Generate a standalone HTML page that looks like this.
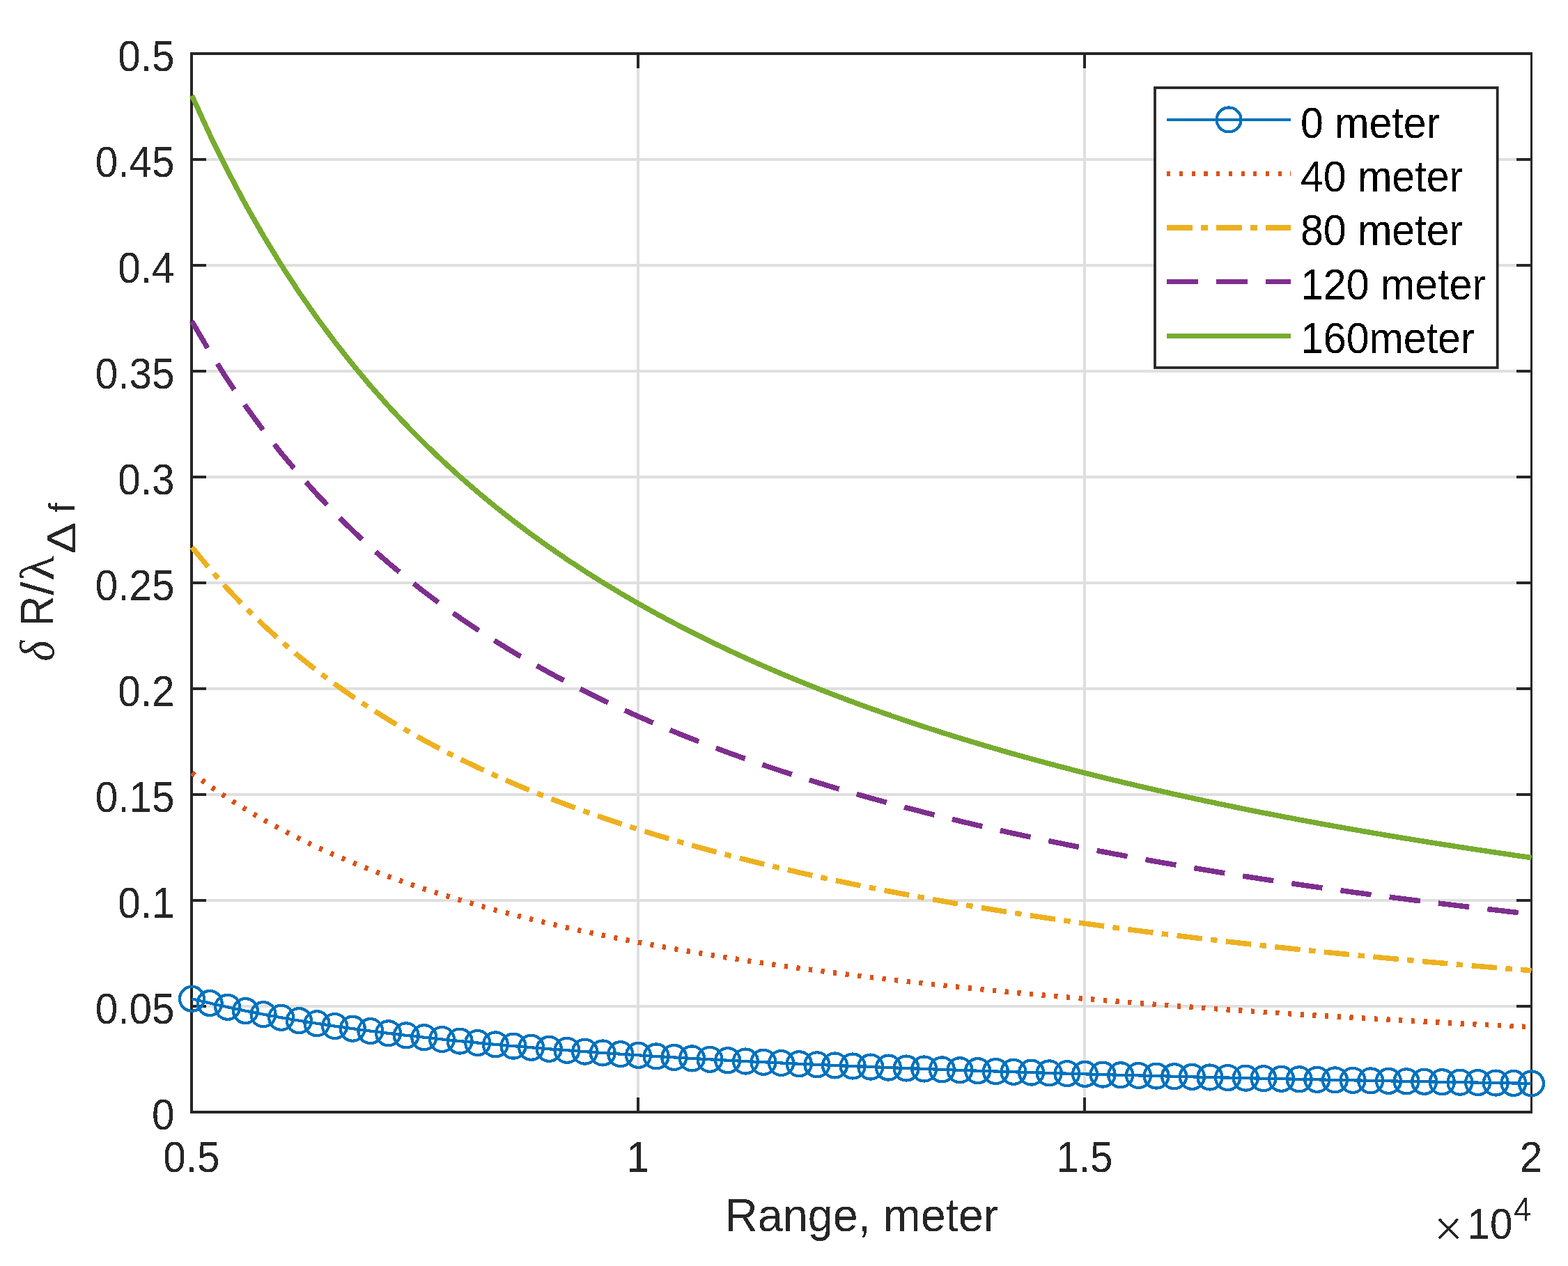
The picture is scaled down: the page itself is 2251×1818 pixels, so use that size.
<!DOCTYPE html>
<html><head><meta charset="utf-8"><title>Range plot</title>
<style>html,body{margin:0;padding:0;background:#fff;overflow:hidden;}svg{display:block;}</style>
</head><body>
<svg width="2251" height="1818" viewBox="0 0 2251 1818">
<defs><filter id="bin" color-interpolation-filters="sRGB"><feComponentTransfer><feFuncA type="discrete" tableValues="0 1"/></feComponentTransfer></filter></defs>
<path d="M916.00 77.0V1597.0 M1557.00 77.0V1597.0 M275.0 1445.00H2198.0 M275.0 1293.00H2198.0 M275.0 1141.00H2198.0 M275.0 989.00H2198.0 M275.0 837.00H2198.0 M275.0 685.00H2198.0 M275.0 533.00H2198.0 M275.0 381.00H2198.0 M275.0 229.00H2198.0" stroke="#dfdfdf" stroke-width="4" fill="none"/>
<path d="M916.00 1597.0v-21M916.00 77.0v21 M1557.00 1597.0v-21M1557.00 77.0v21 M275.0 1445.00h21M2198.0 1445.00h-21 M275.0 1293.00h21M2198.0 1293.00h-21 M275.0 1141.00h21M2198.0 1141.00h-21 M275.0 989.00h21M2198.0 989.00h-21 M275.0 837.00h21M2198.0 837.00h-21 M275.0 685.00h21M2198.0 685.00h-21 M275.0 533.00h21M2198.0 533.00h-21 M275.0 381.00h21M2198.0 381.00h-21 M275.0 229.00h21M2198.0 229.00h-21" stroke="#262626" stroke-width="4" fill="none"/>
<path d="M273.0 77.0H2199.5M273.0 1597.0H2199.5M275.0 77.0V1597.0" stroke="#262626" stroke-width="4" fill="none"/>
<path d="M2198.5 75.0V1599.0" stroke="#262626" stroke-width="3" fill="none"/>
<g font-family="'Liberation Sans', Arial, Helvetica, sans-serif" font-size="60" fill="#262626" filter="url(#bin)"><text transform="translate(275.00 1683.3) scale(0.975 1.035)" text-anchor="middle">0.5</text><text transform="translate(916.00 1683.3) scale(0.975 1.035)" text-anchor="middle">1</text><text transform="translate(1557.00 1683.3) scale(0.975 1.035)" text-anchor="middle">1.5</text><text transform="translate(2198.00 1683.3) scale(0.975 1.035)" text-anchor="middle">2</text><text transform="translate(250.5 1622.30) scale(0.975 1.035)" text-anchor="end">0</text><text transform="translate(250.5 1470.30) scale(0.975 1.035)" text-anchor="end">0.05</text><text transform="translate(250.5 1318.30) scale(0.975 1.035)" text-anchor="end">0.1</text><text transform="translate(250.5 1166.30) scale(0.975 1.035)" text-anchor="end">0.15</text><text transform="translate(250.5 1014.30) scale(0.975 1.035)" text-anchor="end">0.2</text><text transform="translate(250.5 862.30) scale(0.975 1.035)" text-anchor="end">0.25</text><text transform="translate(250.5 710.30) scale(0.975 1.035)" text-anchor="end">0.3</text><text transform="translate(250.5 558.30) scale(0.975 1.035)" text-anchor="end">0.35</text><text transform="translate(250.5 406.30) scale(0.975 1.035)" text-anchor="end">0.4</text><text transform="translate(250.5 254.30) scale(0.975 1.035)" text-anchor="end">0.45</text><text transform="translate(250.5 102.30) scale(0.975 1.035)" text-anchor="end">0.5</text></g>
<text transform="translate(1237.2 1768) scale(0.981 1)" text-anchor="middle" font-family="'Liberation Sans', Arial, Helvetica, sans-serif" font-size="66" fill="#262626" filter="url(#bin)">Range, meter</text>
<g font-family="'Liberation Sans', Arial, Helvetica, sans-serif" fill="#262626" filter="url(#bin)"><text transform="translate(2058.96 1788.7) scale(1.208 1.248)" font-size="60" font-family="'Liberation Serif', 'Times New Roman', serif">×</text><text transform="translate(2106.5 1778.8) scale(0.975 1.035)" font-size="60">10</text><text transform="translate(2173.3 1753) scale(0.89 0.98)" font-size="50">4</text></g>
<g fill="#262626" filter="url(#bin)"><text transform="rotate(-90) translate(-949.61 76.54) scale(0.9552 1.0574)" font-family="'Liberation Serif', 'Times New Roman', serif" font-size="66" font-style="italic">δ</text><text transform="rotate(-90) translate(-899.36 75.80) scale(0.9128 1.0174)" font-family="'Liberation Sans', Arial, Helvetica, sans-serif" font-size="66">R</text><text transform="rotate(-90) translate(-854.80 76.02) scale(1.0444 0.9796)" font-family="'Liberation Sans', Arial, Helvetica, sans-serif" font-size="66">/</text><text transform="rotate(-90) translate(-834.06 76.90) scale(1.1300 1.0435)" font-family="'Liberation Serif', 'Times New Roman', serif" font-size="66">λ</text><text transform="rotate(-90) translate(-795.01 107.90) scale(1.0075 0.8674)" font-family="'Liberation Sans', Arial, Helvetica, sans-serif" font-size="66">Δ</text><text transform="rotate(-90) translate(-735.71 107.10) scale(0.7118 0.7896)" font-family="'Liberation Sans', Arial, Helvetica, sans-serif" font-size="66">f</text></g>
<polyline points="275.50,1434.27 301.14,1440.50 326.78,1446.28 352.42,1451.64 378.06,1456.63 403.70,1461.29 429.34,1465.65 454.98,1469.73 480.62,1473.57 506.26,1477.18 531.90,1480.59 557.54,1483.81 583.18,1486.85 608.82,1489.73 634.46,1492.47 660.10,1495.07 685.74,1497.54 711.38,1499.89 737.02,1502.14 762.66,1504.28 788.30,1506.33 813.94,1508.28 839.58,1510.16 865.22,1511.96 890.86,1513.68 916.50,1515.33 942.14,1516.92 967.78,1518.45 993.42,1519.92 1019.06,1521.34 1044.70,1522.70 1070.34,1524.02 1095.98,1525.29 1121.62,1526.51 1147.26,1527.70 1172.90,1528.84 1198.54,1529.95 1224.18,1531.02 1249.82,1532.06 1275.46,1533.07 1301.10,1534.04 1326.74,1534.99 1352.38,1535.90 1378.02,1536.79 1403.66,1537.66 1429.30,1538.50 1454.94,1539.31 1480.58,1540.10 1506.22,1540.87 1531.86,1541.63 1557.50,1542.36 1583.14,1543.07 1608.78,1543.76 1634.42,1544.43 1660.06,1545.09 1685.70,1545.73 1711.34,1546.36 1736.98,1546.97 1762.62,1547.56 1788.26,1548.15 1813.90,1548.71 1839.54,1549.27 1865.18,1549.81 1890.82,1550.34 1916.46,1550.86 1942.10,1551.36 1967.74,1551.86 1993.38,1552.34 2019.02,1552.82 2044.66,1553.28 2070.30,1553.73 2095.94,1554.18 2121.58,1554.61 2147.22,1555.04 2172.86,1555.46 2198.50,1555.87" fill="none" stroke="#0072BD" stroke-width="4.2" stroke-linejoin="round" shape-rendering="crispEdges"/>
<polyline points="275.50,1110.00 301.14,1128.71 326.78,1146.03 352.42,1162.11 378.06,1177.09 403.70,1191.07 429.34,1204.14 454.98,1216.40 480.62,1227.92 506.26,1238.75 531.90,1248.97 557.54,1258.62 583.18,1267.75 608.82,1276.40 634.46,1284.61 660.10,1292.40 685.74,1299.81 711.38,1306.88 737.02,1313.61 762.66,1320.04 788.30,1326.18 813.94,1332.05 839.58,1337.68 865.22,1343.07 890.86,1348.24 916.50,1353.20 942.14,1357.97 967.78,1362.55 993.42,1366.97 1019.06,1371.21 1044.70,1375.31 1070.34,1379.26 1095.98,1383.07 1121.62,1386.74 1147.26,1390.30 1172.90,1393.73 1198.54,1397.06 1224.18,1400.27 1249.82,1403.38 1275.46,1406.40 1301.10,1409.32 1326.74,1412.16 1352.38,1414.91 1378.02,1417.58 1403.66,1420.17 1429.30,1422.69 1454.94,1425.13 1480.58,1427.51 1506.22,1429.82 1531.86,1432.08 1557.50,1434.27 1583.14,1436.40 1608.78,1438.48 1634.42,1440.50 1660.06,1442.48 1685.70,1444.40 1711.34,1446.28 1736.98,1448.11 1762.62,1449.89 1788.26,1451.64 1813.90,1453.34 1839.54,1455.00 1865.18,1456.63 1890.82,1458.22 1916.46,1459.77 1942.10,1461.29 1967.74,1462.77 1993.38,1464.23 2019.02,1465.65 2044.66,1467.04 2070.30,1468.40 2095.94,1469.73 2121.58,1471.04 2147.22,1472.32 2172.86,1473.57 2198.50,1474.80" fill="none" stroke="#D95319" stroke-width="7.5" stroke-linejoin="round" stroke-dasharray="5.2 12.52" shape-rendering="crispEdges"/>
<polyline points="275.50,785.73 301.14,816.91 326.78,845.78 352.42,872.59 378.06,897.55 403.70,920.84 429.34,942.64 454.98,963.07 480.62,982.26 506.26,1000.32 531.90,1017.35 557.54,1033.44 583.18,1048.65 608.82,1063.07 634.46,1076.74 660.10,1089.73 685.74,1102.09 711.38,1113.86 737.02,1125.08 762.66,1135.79 788.30,1146.03 813.94,1155.82 839.58,1165.19 865.22,1174.18 890.86,1182.79 916.50,1191.07 942.14,1199.01 967.78,1206.66 993.42,1214.01 1019.06,1221.09 1044.70,1227.92 1070.34,1234.50 1095.98,1240.84 1121.62,1246.97 1147.26,1252.90 1172.90,1258.62 1198.54,1264.16 1224.18,1269.52 1249.82,1274.71 1275.46,1279.73 1301.10,1284.61 1326.74,1289.33 1352.38,1293.91 1378.02,1298.36 1403.66,1302.68 1429.30,1306.88 1454.94,1310.95 1480.58,1314.92 1506.22,1318.77 1531.86,1322.53 1557.50,1326.18 1583.14,1329.73 1608.78,1333.20 1634.42,1336.57 1660.06,1339.86 1685.70,1343.07 1711.34,1346.19 1736.98,1349.25 1762.62,1352.22 1788.26,1355.13 1813.90,1357.97 1839.54,1360.74 1865.18,1363.45 1890.82,1366.10 1916.46,1368.68 1942.10,1371.21 1967.74,1373.69 1993.38,1376.11 2019.02,1378.48 2044.66,1380.80 2070.30,1383.07 2095.94,1385.29 2121.58,1387.47 2147.22,1389.60 2172.86,1391.69 2198.50,1393.73" fill="none" stroke="#EDB120" stroke-width="7.5" stroke-linejoin="round" stroke-dasharray="36.5 12.45 9.5 12.43" shape-rendering="crispEdges"/>
<polyline points="275.50,461.47 301.14,505.12 326.78,545.54 352.42,583.07 378.06,618.01 403.70,650.62 429.34,681.13 454.98,709.73 480.62,736.60 506.26,761.89 531.90,785.73 557.54,808.25 583.18,829.55 608.82,849.73 634.46,868.88 660.10,887.07 685.74,904.37 711.38,920.84 737.02,936.56 762.66,951.55 788.30,965.88 813.94,979.59 839.58,992.71 865.22,1005.29 890.86,1017.35 916.50,1028.93 942.14,1040.06 967.78,1050.76 993.42,1061.05 1019.06,1070.97 1044.70,1080.52 1070.34,1089.73 1095.98,1098.62 1121.62,1107.20 1147.26,1115.50 1172.90,1123.51 1198.54,1131.26 1224.18,1138.77 1249.82,1146.03 1275.46,1153.07 1301.10,1159.89 1326.74,1166.50 1352.38,1172.92 1378.02,1179.15 1403.66,1185.19 1429.30,1191.07 1454.94,1196.78 1480.58,1202.33 1506.22,1207.72 1531.86,1212.98 1557.50,1218.09 1583.14,1223.07 1608.78,1227.92 1634.42,1232.64 1660.06,1237.24 1685.70,1241.73 1711.34,1246.11 1736.98,1250.38 1762.62,1254.55 1788.26,1258.62 1813.90,1262.60 1839.54,1266.48 1865.18,1270.27 1890.82,1273.98 1916.46,1277.60 1942.10,1281.14 1967.74,1284.61 1993.38,1287.99 2019.02,1291.31 2044.66,1294.56 2070.30,1297.73 2095.94,1300.84 2121.58,1303.89 2147.22,1306.88 2172.86,1309.80 2198.50,1312.67" fill="none" stroke="#7E2F8E" stroke-width="7.5" stroke-linejoin="round" stroke-dasharray="44.6 26.28" shape-rendering="crispEdges"/>
<polyline points="275.50,137.20 301.14,193.32 326.78,245.29 352.42,293.54 378.06,338.47 403.70,380.40 429.34,419.63 454.98,456.40 480.62,490.95 506.26,523.46 531.90,554.11 557.54,583.07 583.18,610.45 608.82,636.40 634.46,661.02 660.10,684.40 685.74,706.64 711.38,727.83 737.02,748.03 762.66,767.31 788.30,785.73 813.94,803.36 839.58,820.23 865.22,836.40 890.86,851.91 916.50,866.80 942.14,881.11 967.78,894.86 993.42,908.10 1019.06,920.84 1044.70,933.13 1070.34,944.97 1095.98,956.40 1121.62,967.43 1147.26,978.09 1172.90,988.40 1198.54,998.37 1224.18,1008.01 1249.82,1017.35 1275.46,1026.40 1301.10,1035.17 1326.74,1043.67 1352.38,1051.92 1378.02,1059.93 1403.66,1067.70 1429.30,1075.26 1454.94,1082.60 1480.58,1089.73 1506.22,1096.67 1531.86,1103.43 1557.50,1110.00 1583.14,1116.40 1608.78,1122.63 1634.42,1128.71 1660.06,1134.63 1685.70,1140.40 1711.34,1146.03 1736.98,1151.52 1762.62,1156.88 1788.26,1162.11 1813.90,1167.22 1839.54,1172.21 1865.18,1177.09 1890.82,1181.85 1916.46,1186.51 1942.10,1191.07 1967.74,1195.52 1993.38,1199.88 2019.02,1204.14 2044.66,1208.31 2070.30,1212.40 2095.94,1216.40 2121.58,1220.32 2147.22,1224.16 2172.86,1227.92 2198.50,1231.60" fill="none" stroke="#77AC30" stroke-width="7.5" stroke-linejoin="round" shape-rendering="crispEdges"/>
<g fill="none" stroke="#0072BD" stroke-width="4.2" shape-rendering="crispEdges"><circle cx="275.50" cy="1434.27" r="17.5"/><circle cx="301.14" cy="1440.50" r="17.5"/><circle cx="326.78" cy="1446.28" r="17.5"/><circle cx="352.42" cy="1451.64" r="17.5"/><circle cx="378.06" cy="1456.63" r="17.5"/><circle cx="403.70" cy="1461.29" r="17.5"/><circle cx="429.34" cy="1465.65" r="17.5"/><circle cx="454.98" cy="1469.73" r="17.5"/><circle cx="480.62" cy="1473.57" r="17.5"/><circle cx="506.26" cy="1477.18" r="17.5"/><circle cx="531.90" cy="1480.59" r="17.5"/><circle cx="557.54" cy="1483.81" r="17.5"/><circle cx="583.18" cy="1486.85" r="17.5"/><circle cx="608.82" cy="1489.73" r="17.5"/><circle cx="634.46" cy="1492.47" r="17.5"/><circle cx="660.10" cy="1495.07" r="17.5"/><circle cx="685.74" cy="1497.54" r="17.5"/><circle cx="711.38" cy="1499.89" r="17.5"/><circle cx="737.02" cy="1502.14" r="17.5"/><circle cx="762.66" cy="1504.28" r="17.5"/><circle cx="788.30" cy="1506.33" r="17.5"/><circle cx="813.94" cy="1508.28" r="17.5"/><circle cx="839.58" cy="1510.16" r="17.5"/><circle cx="865.22" cy="1511.96" r="17.5"/><circle cx="890.86" cy="1513.68" r="17.5"/><circle cx="916.50" cy="1515.33" r="17.5"/><circle cx="942.14" cy="1516.92" r="17.5"/><circle cx="967.78" cy="1518.45" r="17.5"/><circle cx="993.42" cy="1519.92" r="17.5"/><circle cx="1019.06" cy="1521.34" r="17.5"/><circle cx="1044.70" cy="1522.70" r="17.5"/><circle cx="1070.34" cy="1524.02" r="17.5"/><circle cx="1095.98" cy="1525.29" r="17.5"/><circle cx="1121.62" cy="1526.51" r="17.5"/><circle cx="1147.26" cy="1527.70" r="17.5"/><circle cx="1172.90" cy="1528.84" r="17.5"/><circle cx="1198.54" cy="1529.95" r="17.5"/><circle cx="1224.18" cy="1531.02" r="17.5"/><circle cx="1249.82" cy="1532.06" r="17.5"/><circle cx="1275.46" cy="1533.07" r="17.5"/><circle cx="1301.10" cy="1534.04" r="17.5"/><circle cx="1326.74" cy="1534.99" r="17.5"/><circle cx="1352.38" cy="1535.90" r="17.5"/><circle cx="1378.02" cy="1536.79" r="17.5"/><circle cx="1403.66" cy="1537.66" r="17.5"/><circle cx="1429.30" cy="1538.50" r="17.5"/><circle cx="1454.94" cy="1539.31" r="17.5"/><circle cx="1480.58" cy="1540.10" r="17.5"/><circle cx="1506.22" cy="1540.87" r="17.5"/><circle cx="1531.86" cy="1541.63" r="17.5"/><circle cx="1557.50" cy="1542.36" r="17.5"/><circle cx="1583.14" cy="1543.07" r="17.5"/><circle cx="1608.78" cy="1543.76" r="17.5"/><circle cx="1634.42" cy="1544.43" r="17.5"/><circle cx="1660.06" cy="1545.09" r="17.5"/><circle cx="1685.70" cy="1545.73" r="17.5"/><circle cx="1711.34" cy="1546.36" r="17.5"/><circle cx="1736.98" cy="1546.97" r="17.5"/><circle cx="1762.62" cy="1547.56" r="17.5"/><circle cx="1788.26" cy="1548.15" r="17.5"/><circle cx="1813.90" cy="1548.71" r="17.5"/><circle cx="1839.54" cy="1549.27" r="17.5"/><circle cx="1865.18" cy="1549.81" r="17.5"/><circle cx="1890.82" cy="1550.34" r="17.5"/><circle cx="1916.46" cy="1550.86" r="17.5"/><circle cx="1942.10" cy="1551.36" r="17.5"/><circle cx="1967.74" cy="1551.86" r="17.5"/><circle cx="1993.38" cy="1552.34" r="17.5"/><circle cx="2019.02" cy="1552.82" r="17.5"/><circle cx="2044.66" cy="1553.28" r="17.5"/><circle cx="2070.30" cy="1553.73" r="17.5"/><circle cx="2095.94" cy="1554.18" r="17.5"/><circle cx="2121.58" cy="1554.61" r="17.5"/><circle cx="2147.22" cy="1555.04" r="17.5"/><circle cx="2172.86" cy="1555.46" r="17.5"/><circle cx="2198.50" cy="1555.87" r="17.5"/></g>
<rect x="1658" y="126" width="491.6999999999998" height="402" fill="#fff" stroke="#262626" stroke-width="3.8"/>
<path d="M1675.2 171.9H1853" stroke="#0072BD" stroke-width="4.2" shape-rendering="crispEdges"/>
<text transform="translate(1867 197.6) scale(0.985 1.035)" font-family="'Liberation Sans', Arial, Helvetica, sans-serif" font-size="60" fill="#000" filter="url(#bin)">0 meter</text>
<circle cx="1764.10" cy="171.9" r="17.5" fill="none" stroke="#0072BD" stroke-width="4.2" shape-rendering="crispEdges"/>
<path d="M1675.2 249.5H1853" stroke="#D95319" stroke-width="7.5" stroke-dasharray="5.2 12.52" shape-rendering="crispEdges"/>
<text transform="translate(1867 274.9) scale(0.985 1.035)" font-family="'Liberation Sans', Arial, Helvetica, sans-serif" font-size="60" fill="#000" filter="url(#bin)">40 meter</text>
<path d="M1675.2 327.1H1853" stroke="#EDB120" stroke-width="7.5" stroke-dasharray="36.5 12.45 9.5 12.43" shape-rendering="crispEdges"/>
<text transform="translate(1867 352.3) scale(0.985 1.035)" font-family="'Liberation Sans', Arial, Helvetica, sans-serif" font-size="60" fill="#000" filter="url(#bin)">80 meter</text>
<path d="M1675.2 404.7H1853" stroke="#7E2F8E" stroke-width="7.5" stroke-dasharray="44.6 26.28" shape-rendering="crispEdges"/>
<text transform="translate(1867 429.6) scale(0.985 1.035)" font-family="'Liberation Sans', Arial, Helvetica, sans-serif" font-size="60" fill="#000" filter="url(#bin)">120 meter</text>
<path d="M1675.2 482.3H1853" stroke="#77AC30" stroke-width="7.5" shape-rendering="crispEdges"/>
<text transform="translate(1867 507.0) scale(0.985 1.035)" font-family="'Liberation Sans', Arial, Helvetica, sans-serif" font-size="60" fill="#000" filter="url(#bin)">160meter</text>
</svg>
</body></html>
